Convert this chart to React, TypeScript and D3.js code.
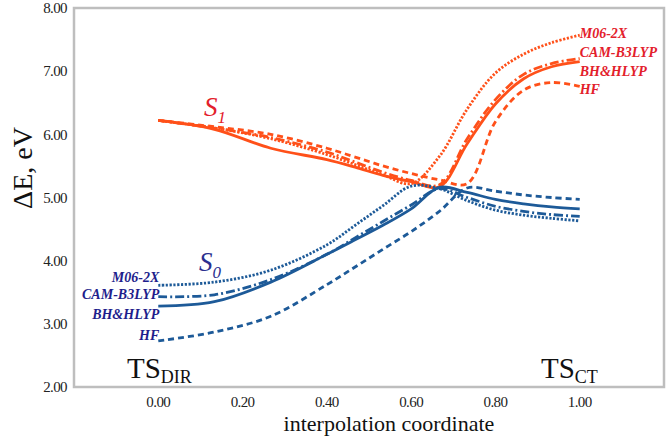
import React from "react";
import * as d3 from "d3";

const X = [0, 0.133, 0.267, 0.4, 0.467, 0.533, 0.6, 0.667, 0.733, 0.8, 0.867, 0.933, 1];

const S1_BHHLYP = [6.22, 6.08, 5.78, 5.6, 5.48, 5.35, 5.25, 5.17, 5.85, 6.48, 6.88, 7.07, 7.15];
const S1_CAM = [6.22, 6.1, 5.95, 5.72, 5.56, 5.4, 5.27, 5.2, 5.93, 6.55, 6.95, 7.12, 7.2];
const S1_M06 = [6.22, 6.1, 5.93, 5.68, 5.52, 5.36, 5.22, 5.65, 6.4, 6.97, 7.27, 7.45, 7.57];
const S1_HF = [6.22, 6.12, 6.0, 5.78, 5.64, 5.5, 5.38, 5.28, 5.22, 6.2, 6.7, 6.82, 6.76];

const S0_BHHLYP = [3.28, 3.35, 3.66, 4.1, 4.33, 4.56, 4.82, 5.16, 5.08, 4.97, 4.9, 4.85, 4.82];
const S0_CAM = [3.43, 3.46, 3.7, 4.1, 4.36, 4.62, 4.88, 5.14, 5.0, 4.86, 4.78, 4.73, 4.7];
const S0_M06 = [3.61, 3.66, 3.85, 4.25, 4.56, 4.87, 5.18, 5.14, 4.95, 4.8, 4.72, 4.67, 4.63];
const S0_HF = [2.73, 2.87, 3.12, 3.62, 3.9, 4.18, 4.46, 4.78, 5.15, 5.1, 5.04, 5.0, 4.97];

const METHODS = ["M06-2X", "CAM-B3LYP", "BH&HLYP", "HF"];
const X_TICKS = [0, 0.2, 0.4, 0.6, 0.8, 1.0];
const Y_TICKS = [2, 3, 4, 5, 6, 7, 8];

const ORANGE = "#FF5019";
const BLUE = "#1D5A98";
const RED_TEXT = "#E3202B";
const NAVY_TEXT = "#1E1E8C";

const dashFor: Record<string, string | undefined> = {
  "M06-2X": "2.2,1.6",
  "CAM-B3LYP": "9,3,2,3",
  "BH&HLYP": undefined,
  HF: "6,4",
};

const SERIF = "'Liberation Serif', 'Times New Roman', Times, serif";

export default function App() {
  const W = 666, H = 436;
  const x = d3.scaleLinear().domain([-0.2, 1.2]).range([74, 664]);
  const y = d3.scaleLinear().domain([2, 8]).range([387, 8]);
  const line = d3
    .line<number>()
    .x((_, i) => x(X[i]))
    .y((d) => y(d))
    .curve(d3.curveCatmullRom.alpha(0.5));

  const s1: Record<string, number[]> = {
    "M06-2X": S1_M06,
    "CAM-B3LYP": S1_CAM,
    "BH&HLYP": S1_BHHLYP,
    HF: S1_HF,
  };
  const s0: Record<string, number[]> = {
    "M06-2X": S0_M06,
    "CAM-B3LYP": S0_CAM,
    "BH&HLYP": S0_BHHLYP,
    HF: S0_HF,
  };

  const leftLabelY = [277, 294, 314, 335];
  const rightLabelY = [33, 52, 71, 89];
  const tf = { fontFamily: SERIF };

  return (
    <svg
      width={W}
      height={H}
      style={{ position: "absolute", left: 0, top: 0, background: "#fff", fontFamily: SERIF }}
    >
      <rect x={74} y={8} width={590} height={379} fill="none" stroke="#BEBEBE" strokeWidth={2.5} />

      {Y_TICKS.map((t) => (
        <text key={t} style={tf} x={67} y={y(t)} dy="0.35em" textAnchor="end" fontSize={15} letterSpacing={-0.6} fill="#222">
          {t.toFixed(2)}
        </text>
      ))}
      {X_TICKS.map((t) => (
        <text key={t} style={tf} x={x(t)} y={402} dy="0.35em" textAnchor="middle" fontSize={15} letterSpacing={-0.6} fill="#222">
          {t.toFixed(2)}
        </text>
      ))}
      <text style={tf} x={389} y={431} textAnchor="middle" fontSize={22} fill="#111">
        interpolation coordinate
      </text>
      <text style={tf} transform="translate(32,168) rotate(-90)" textAnchor="middle" fontSize={28} fill="#111">
        ΔE, eV
      </text>

      {METHODS.map((m) => (
        <path key={"s1" + m} d={line(s1[m]) || ""} fill="none" stroke={ORANGE} strokeWidth={2.8} strokeDasharray={dashFor[m]} />
      ))}
      {METHODS.map((m) => (
        <path key={"s0" + m} d={line(s0[m]) || ""} fill="none" stroke={BLUE} strokeWidth={2.8} strokeDasharray={dashFor[m]} />
      ))}

      {METHODS.map((m, i) => (
        <text key={"l" + m} style={tf} x={x(0) + 1} y={leftLabelY[i]} dy="0.35em" textAnchor="end" fontSize={14} fontWeight="bold" fontStyle="italic" fill={NAVY_TEXT}>
          {m}
        </text>
      ))}
      {METHODS.map((m, i) => (
        <text key={"r" + m} style={tf} x={x(1)} y={rightLabelY[i]} dy="0.35em" textAnchor="start" fontSize={14} fontWeight="bold" fontStyle="italic" fill={RED_TEXT}>
          {m}
        </text>
      ))}

      <text style={tf} x={204} y={116} fontSize={27} fontStyle="italic" fill={RED_TEXT}>
        S<tspan fontSize={17} dy={7}>1</tspan>
      </text>
      <text style={tf} x={199} y={271} fontSize={27} fontStyle="italic" fill="#2B2F8F">
        S<tspan fontSize={17} dy={7}>0</tspan>
      </text>

      <text style={tf} x={127} y={378} fontSize={29} fill="#111">
        TS<tspan fontSize={18} dy={5}>DIR</tspan>
      </text>
      <text style={tf} x={541} y={378} fontSize={29} fill="#111">
        TS<tspan fontSize={18} dy={5}>CT</tspan>
      </text>
    </svg>
  );
}
